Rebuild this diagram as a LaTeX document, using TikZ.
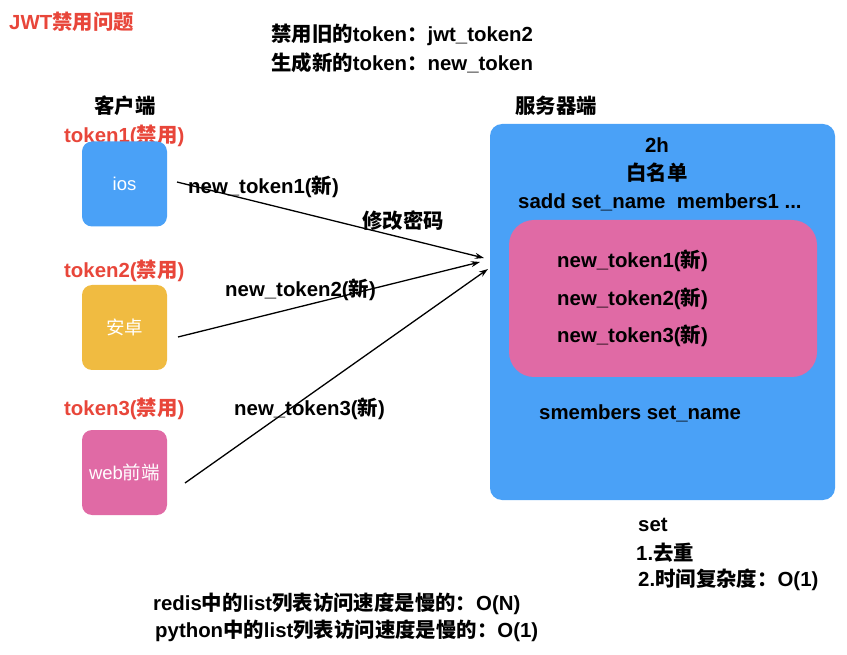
\documentclass[tikz,border=0pt]{standalone}
\usepackage{fontspec}
\setmainfont{Liberation Sans}
\newfontfamily\cjk{Noto Sans CJK SC}
\usetikzlibrary{arrows.meta}
\definecolor{jred}{HTML}{E8463A}
\definecolor{jblue}{HTML}{4AA1F7}
\definecolor{jyellow}{HTML}{F0BB41}
\definecolor{jpink}{HTML}{E06AA5}
\newcommand{\zh}[1]{{\cjk #1}}
\tikzset{
  txt/.style={inner sep=0pt, font=\fontsize{20.4}{24}\selectfont\bfseries, text=black},
  redtxt/.style={txt, text=jred},
  clientbox/.style={rounded corners=10pt, minimum width=85pt, minimum height=85pt, inner sep=0pt, text=white, font=\fontsize{18.5}{22}\selectfont},
  arr/.style={line width=1.3pt, -{Stealth[length=9pt,width=6pt]}}
}
\begin{document}
\begin{tikzpicture}[x=1pt,y=-1pt]
\useasboundingbox (0,0) rectangle (847,655);
% title
\node[redtxt, anchor=west] (title) at (9,22) {JWT\zh{禁用问题}};
\node[txt, anchor=west] (l1) at (271,35) {\zh{禁用旧的}token\zh{：}jwt\_token2};
\node[txt, anchor=west] (l2) at (271,63) {\zh{生成新的}token\zh{：}new\_token};
\node[txt] (client) at (125,106) {\zh{客户端}};
\node[txt, anchor=west] (server) at (515,106) {\zh{服务器端}};
% client labels
\node[redtxt, anchor=west] (t1) at (64,136) {token1(\zh{禁用})};
\node[redtxt, anchor=west] (t2) at (64,271) {token2(\zh{禁用})};
\node[redtxt, anchor=west] (t3) at (64,409) {token3(\zh{禁用})};
% client boxes
\node[clientbox, fill=jblue] (ios) at (124.5,184) {ios};
\node[clientbox, fill=jyellow] (android) at (124.5,327.5) {\zh{安卓}};
\node[clientbox, fill=jpink] (web) at (124.5,472.5) {web\zh{前端}};
% server box
\node[rounded corners=12pt, fill=jblue, minimum width=345pt, minimum height=376pt, inner sep=0pt] (srv) at (662.5,312) {};
\node[txt] (h2) at (657,145) {2h};
\node[txt] (white) at (657,173) {\zh{白名单}};
\node[txt, anchor=west] (sadd) at (518,202) {sadd set\_name\ \ members1 ...};
\node[rounded corners=25pt, fill=jpink, minimum width=308pt, minimum height=157pt, inner sep=0pt] (set) at (663,298.5) {};
\node[txt, anchor=west] (n1) at (557,261) {new\_token1(\zh{新})};
\node[txt, anchor=west] (n2) at (557,299) {new\_token2(\zh{新})};
\node[txt, anchor=west] (n3) at (557,336) {new\_token3(\zh{新})};
\node[txt, anchor=west] (smem) at (539,413) {smembers set\_name};
% notes
\node[txt, anchor=west] (setl) at (638,525) {set};
\node[txt, anchor=west] (s1) at (636,553) {1.\zh{去重}};
\node[txt, anchor=west] (s2) at (638,580) {2.\zh{时间复杂度：}O(1)};
\node[txt, anchor=west] (r1) at (153,604) {redis\zh{中的}list\zh{列表访问速度是慢的：}O(N)};
\node[txt, anchor=west] (r2) at (155,631) {python\zh{中的}list\zh{列表访问速度是慢的：}O(1)};
% arrows
\coordinate (a1s) at (177,182);
\coordinate (a1e) at (484,258);
\coordinate (a2s) at (178,337);
\coordinate (a2e) at (480,262);
\coordinate (a3s) at (185,483);
\coordinate (a3e) at (488,269);
\draw[arr] (a1s) -- (a1e);
\draw[arr] (a2s) -- (a2e);
\draw[arr] (a3s) -- (a3e);
\node[txt, anchor=west] (lab1) at (188,187) {new\_token1(\zh{新})};
\node[txt, anchor=west] (lab0) at (362,221) {\zh{修改密码}};
\node[txt, anchor=west] (lab2) at (225,290) {new\_token2(\zh{新})};
\node[txt, anchor=west] (lab3) at (234,409) {new\_token3(\zh{新})};
\end{tikzpicture}
\end{document}
